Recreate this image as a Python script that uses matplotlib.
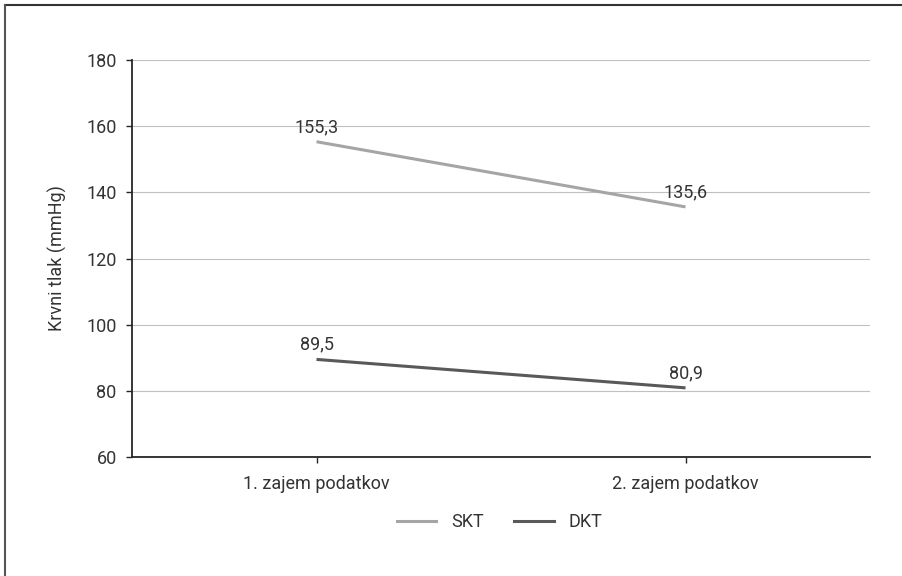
import matplotlib.pyplot as plt
from matplotlib.lines import Line2D

plt.rcParams['font.family'] = ['Roboto', 'DejaVu Sans']

# podatki
kategorije = ['1. zajem podatkov', '2. zajem podatkov']
skt = [155.3, 135.6]
dkt = [89.5, 80.9]
oznake_skt = ['155,3', '135,6']
oznake_dkt = ['89,5', '80,9']

barva_besedila = '#333333'

fig = plt.figure(figsize=(9.03, 5.76), dpi=100)
ax = fig.add_axes([0.1462, 0.2066, 0.8173, 0.6892])

x = list(range(len(kategorije)))
ax.plot(x, skt, color='#a5a5a5', lw=2.2, label='SKT', solid_capstyle='butt')
ax.plot(x, dkt, color='#595959', lw=2.2, label='DKT', solid_capstyle='butt')

for xi, v, t in zip(x, skt, oznake_skt):
    ax.annotate(t, (xi, v), xytext=(0, 4), textcoords='offset points',
                ha='center', va='bottom', fontsize=13, color=barva_besedila)
for xi, v, t in zip(x, dkt, oznake_dkt):
    ax.annotate(t, (xi, v), xytext=(0, 4), textcoords='offset points',
                ha='center', va='bottom', fontsize=13, color=barva_besedila)

ax.set_xlim(-0.5, 1.5)
ax.set_ylim(60, 180)
ax.set_yticks(range(60, 181, 20))
ax.set_xticks(x)
ax.set_xticklabels(kategorije)
ax.grid(axis='y', color='#c0c0c0', lw=0.8)
ax.set_axisbelow(True)
for s in ['top', 'right']:
    ax.spines[s].set_visible(False)
for s in ['left', 'bottom']:
    ax.spines[s].set_color('#262626')
    ax.spines[s].set_linewidth(1.3)
ax.tick_params(axis='both', colors='#262626', labelcolor=barva_besedila,
               labelsize=13, length=4, width=1)
ax.tick_params(axis='y', pad=7)
ax.tick_params(axis='x', pad=9)
ax.set_ylabel('Krvni tlak (mmHg)', fontsize=13, color=barva_besedila, labelpad=14)

handles = [Line2D([], [], color='#a5a5a5', lw=2.2),
           Line2D([], [], color='#595959', lw=2.2)]
fig.legend(handles, ['SKT', 'DKT'], loc='center', bbox_to_anchor=(0.553, 0.094),
           ncol=2, frameon=False, fontsize=13, handlelength=2.2,
           handletextpad=0.8, columnspacing=1.7, labelcolor=barva_besedila)

# okvir slike (zgoraj in levo)
fig.add_artist(Line2D([0.0055, 1.0], [0.991, 0.991], transform=fig.transFigure,
                      color='#333333', lw=1.5))
fig.add_artist(Line2D([0.0055, 0.0055], [0.0, 0.991], transform=fig.transFigure,
                      color='#555555', lw=1.5))

fig.savefig('out.png', dpi=100)
